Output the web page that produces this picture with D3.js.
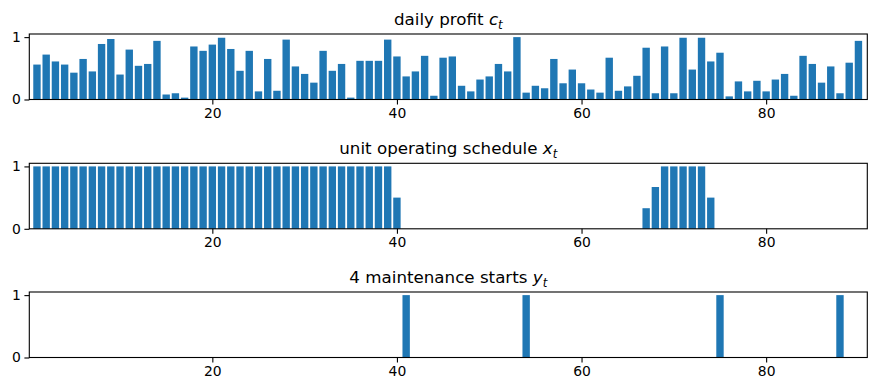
<!DOCTYPE html>
<html>
<head>
<meta charset="utf-8">
<script src="https://cdn.jsdelivr.net/npm/d3@7"></script>
<style>
  body { margin: 0; background: #fff; }
  svg { display: block; font-family: "DejaVu Sans", sans-serif; }
</style>
</head>
<body>
<script>
// days 1..90
const days = d3.range(1, 91);

// daily profit c_t
const profit = [
  0.56, 0.72, 0.61, 0.56, 0.43, 0.65, 0.45, 0.89, 0.97, 0.40,
  0.80, 0.54, 0.57, 0.94, 0.08, 0.10, 0.03, 0.85, 0.78, 0.88,
  0.99, 0.81, 0.46, 0.78, 0.13, 0.65, 0.14, 0.96, 0.53, 0.41,
  0.27, 0.78, 0.46, 0.57, 0.03, 0.62, 0.62, 0.62, 0.96, 0.69,
  0.37, 0.45, 0.70, 0.06, 0.67, 0.69, 0.22, 0.13, 0.32, 0.37,
  0.57, 0.45, 1.00, 0.11, 0.22, 0.18, 0.65, 0.26, 0.48, 0.26,
  0.16, 0.11, 0.67, 0.14, 0.21, 0.38, 0.83, 0.10, 0.85, 0.10,
  0.99, 0.48, 0.99, 0.61, 0.75, 0.05, 0.29, 0.13, 0.30, 0.13,
  0.32, 0.41, 0.06, 0.70, 0.57, 0.27, 0.53, 0.10, 0.59, 0.94
];

// unit operating schedule x_t
const schedule = [
  1, 1, 1, 1, 1, 1, 1, 1, 1, 1,
  1, 1, 1, 1, 1, 1, 1, 1, 1, 1,
  1, 1, 1, 1, 1, 1, 1, 1, 1, 1,
  1, 1, 1, 1, 1, 1, 1, 1, 1, 0.5,
  0, 0, 0, 0, 0, 0, 0, 0, 0, 0,
  0, 0, 0, 0, 0, 0, 0, 0, 0, 0,
  0, 0, 0, 0, 0, 0, 0.33, 0.67, 1, 1,
  1, 1, 1, 0.5, 0, 0, 0, 0, 0, 0,
  0, 0, 0, 0, 0, 0, 0, 0, 0, 0
];

// maintenance start days (y_t = 1)
const startDays = [41, 54, 75, 88];
const starts = days.map((d) => (startDays.includes(d) ? 1 : 0));

const xTicks = [20, 40, 60, 80];
const yTicks = [0, 1];

const panels = [
  { pre: "daily profit ", sym: "c", values: profit },
  { pre: "unit operating schedule ", sym: "x", values: schedule },
  { pre: "4 maintenance starts ", sym: "y", values: starts },
];

const width = 876,
  height = 390;
const margin = { left: 29.3, right: 8.7 };
const panelTops = [34, 163.3, 292];
const panelH = 65.5;

const svg = d3
  .select("body")
  .append("svg")
  .attr("width", width)
  .attr("height", height)
  .attr("viewBox", [0, 0, width, height]);

const x = d3
  .scaleLinear()
  .domain([0.17, 90.96])
  .range([margin.left, width - margin.right]);

const barW = x(0.8) - x(0);

panels.forEach((p, i) => {
  const top = panelTops[i];
  const y = d3
    .scaleLinear()
    .domain([0, 1.05])
    .range([top + panelH, top]);

  const g = svg.append("g");

  // bars
  g.append("g")
    .selectAll("rect")
    .data(days.map((d, k) => ({ day: d, v: p.values[k] })).filter((d) => d.v > 0))
    .join("rect")
    .attr("x", (d) => x(d.day) - barW / 2)
    .attr("width", barW)
    .attr("y", (d) => y(d.v))
    .attr("height", (d) => y(0) - y(d.v))
    .attr("fill", "#1f77b4");

  // axes
  const xAxis = g
    .append("g")
    .attr("transform", `translate(0,${top + panelH})`)
    .call(d3.axisBottom(x).tickValues(xTicks).tickFormat(d3.format("d")).tickSize(4.9).tickPadding(3.5).tickSizeOuter(0));
  const yAxis = g
    .append("g")
    .attr("transform", `translate(${margin.left},0)`)
    .call(d3.axisLeft(y).tickValues(yTicks).tickFormat(d3.format("d")).tickSize(4.9).tickPadding(3.5).tickSizeOuter(0));

  [xAxis, yAxis].forEach((a) => {
    a.select(".domain").remove();
    a.selectAll("line").attr("stroke", "#000").attr("stroke-width", 1.1);
    a.selectAll("text")
      .attr("fill", "#000")
      .style("font-size", "13.9px")
      .style("font-family", "DejaVu Sans");
  });

  // frame
  g.append("rect")
    .attr("x", margin.left)
    .attr("y", top)
    .attr("width", width - margin.right - margin.left)
    .attr("height", panelH)
    .attr("fill", "none")
    .attr("stroke", "#000")
    .attr("stroke-width", 1.1);

  // title with math symbol
  const t = g
    .append("text")
    .attr("x", (margin.left + width - margin.right) / 2)
    .attr("y", top - 9)
    .attr("text-anchor", "middle")
    .style("font-size", "16.7px")
    .attr("fill", "#000");
  t.append("tspan").text(p.pre);
  t.append("tspan").style("font-style", "italic").text(p.sym);
  t.append("tspan")
    .style("font-style", "italic")
    .style("font-size", "11.7px")
    .attr("dy", 3.5)
    .text("t");
});
</script>
</body>
</html>
